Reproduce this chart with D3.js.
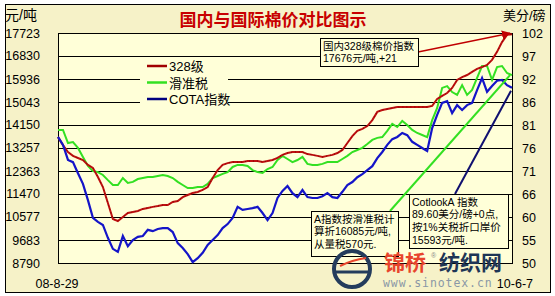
<!DOCTYPE html>
<html>
<head>
<meta charset="utf-8">
<script src="https://cdn.jsdelivr.net/npm/d3@7"></script>
<style>
  body { margin: 0; background: #fff; }
  text { font-family: "Liberation Sans", "Noto Sans CJK SC", sans-serif; }
</style>
</head>
<body>
<div id="chart"></div>
<script>
var width = 555;
var height = 296;
var outerBg = '#f6f2c8';
var plotBg = '#ffffd8';
var redColor = '#c01010';
var greenColor = '#33e022';
var blueColor = '#1414c8';

// chart data, one value per sample from 08-8-29 to 10-6-7
var dateLabels = ['08-8-29', '10-6-7'];
var leftTicks = [8790, 9683, 10577, 11470, 12363, 13257, 14150, 15043, 15936, 16830, 17723];
var rightTicks = [50, 55.2, 60.4, 65.6, 70.8, 76, 81.2, 86.4, 91.6, 96.8, 102];
var seriesNames = ['328级', '滑准税', 'COTA指数'];

// 国内328级 (元/吨)
var price328 = [13680, 13370, 13100, 12950, 12870, 12790, 12600, 12480, 12130, 11740,
  11120, 10500, 10420, 10580, 10730, 10770, 10810, 10890, 10930, 10970,
  11000, 11040, 11040, 11160, 11200, 11350, 11430, 11510, 11550, 11630,
  11740, 12090, 12400, 12600, 12670, 12710, 12710, 12710, 12750, 12750,
  12750, 12710, 12750, 12790, 12870, 12990, 13060, 13100, 13100, 13100,
  13020, 12990, 12950, 12910, 12950, 12990, 13060, 13180, 13450, 13720,
  13920, 14000, 14110, 14340, 14660, 14730, 14770, 14810, 14850, 14850,
  14850, 14850, 14850, 14850, 14850, 14890, 15160, 15280, 15390, 15590,
  15900, 16010, 16090, 16210, 16330, 16400, 16480, 16680, 16990, 17370,
  17650, 17676];

// 滑准税折算价 (元/吨)
var priceSliding = [13960, 13960, 13450, 13490, 13260, 12910, 12560, 12360, 12320, 12210,
  12010, 11820, 11820, 12090, 11900, 11940, 12050, 12090, 12130, 12130,
  12170, 12210, 12170, 12090, 11940, 11820, 11700, 11700, 11740, 11740,
  11860, 12090, 12170, 12250, 12320, 12520, 12600, 12600, 12560, 12400,
  12320, 12290, 12440, 12520, 12790, 12950, 12830, 12710, 12790, 12910,
  12640, 12600, 12600, 12640, 12710, 12710, 12710, 12830, 12950, 13100,
  13180, 13260, 13410, 13570, 13650, 13680, 13920, 14190, 14070, 14310,
  14150, 13960, 13840, 13760, 13680, 14340, 14810, 15590, 15660, 15430,
  15320, 15700, 15320, 15510, 15980, 16440, 16440, 15900, 16400, 16440,
  16170, 16085];

// COTA指数 (美分/磅)
var cotaIndex = [78.5, 76.7, 73.3, 72.8, 70.3, 67.9, 64.2, 60.2, 59.3, 58.6,
  55.7, 53.2, 52.5, 56.1, 53.8, 55.2, 55.9, 56.1, 57.5, 57.2,
  57.7, 57.9, 57.9, 57.0, 54.5, 53.4, 52.0, 50.2, 51.1, 52.3,
  54.1, 55.2, 56.3, 57.9, 58.8, 60.2, 62.7, 62.0, 62.2, 62.4,
  62.7, 61.3, 59.7, 61.3, 64.7, 66.3, 67.4, 65.8, 64.9, 66.5,
  64.9, 64.7, 64.7, 65.1, 65.8, 64.9, 64.7, 66.1, 67.6, 68.3,
  69.4, 70.1, 71.0, 71.9, 73.7, 75.1, 76.7, 78.0, 78.5, 79.4,
  78.9, 77.4, 76.7, 76.0, 75.3, 80.5, 83.5, 86.2, 86.6, 83.9,
  85.7, 84.6, 85.7, 86.2, 89.1, 91.8, 88.7, 90.0, 91.2, 91.4,
  90.2, 89.6];

var svg = d3.select('#chart').append('svg')
      .attr('width', width)
      .attr('height', height)

// outer frame
svg.append('rect')
      .attr('x', 5.5)
      .attr('y', 4.5)
      .attr('width', 545)
      .attr('height', 288)
      .style('fill', outerBg)
      .style('stroke', '#000')

var plot = { left: 58, right: 512, top: 33, bottom: 263 };

var xScale = d3.scaleLinear()
      .domain([0, price328.length - 1])
      .range([plot.left, plot.right])
var yLeft = d3.scaleLinear()
      .domain([8790, 17723])
      .range([plot.bottom, plot.top])
var yRight = d3.scaleLinear()
      .domain([50, 102])
      .range([plot.bottom, plot.top])

svg.append('rect')
      .attr('x', plot.left)
      .attr('y', plot.top)
      .attr('width', plot.right - plot.left)
      .attr('height', plot.bottom - plot.top)
      .style('fill', plotBg)

// grid lines
svg.append('g').selectAll('line')
      .data(leftTicks)
      .enter()
      .append('line')
            .attr('x1', plot.left)
            .attr('x2', plot.right)
            .attr('y1', d => Math.round(yLeft(d)) + 0.5)
            .attr('y2', d => Math.round(yLeft(d)) + 0.5)
            .style('stroke', '#000')
            .style('stroke-width', 1)

svg.append('rect')
      .attr('x', plot.left + 0.5)
      .attr('y', plot.top + 0.5)
      .attr('width', plot.right - plot.left)
      .attr('height', plot.bottom - plot.top)
      .style('fill', 'none')
      .style('stroke', '#000')

// axes
var leftAxis = d3.axisLeft(yLeft)
      .tickValues(leftTicks)
      .tickSize(0)
      .tickPadding(18)
      .tickFormat(d3.format('.0f'))
var rightAxis = d3.axisRight(yRight)
      .tickValues(rightTicks)
      .tickSize(0)
      .tickPadding(10)
      .tickFormat(d3.format('.0f'))

var gl = svg.append('g')
      .attr('transform', 'translate(' + plot.left + ',0)')
      .call(leftAxis)
var gr = svg.append('g')
      .attr('transform', 'translate(' + plot.right + ',0)')
      .call(rightAxis)
svg.selectAll('.domain').remove()
svg.selectAll('.tick text')
      .style('font-family', '"Liberation Sans", sans-serif')
      .style('font-size', '12.5px')
      .style('fill', '#000')

// axis titles and dates
svg.append('text')
      .attr('x', 5)
      .attr('y', 20)
      .style('font-size', '14px')
      .text('元/吨')
svg.append('text')
      .attr('x', 503)
      .attr('y', 20)
      .style('font-size', '13px')
      .text('美分/磅')
svg.append('text')
      .attr('x', xScale(0) - 1)
      .attr('y', 288)
      .style('text-anchor', 'middle')
      .style('font-size', '12.5px')
      .text(dateLabels[0])
svg.append('text')
      .attr('x', xScale(price328.length - 1) + 21)
      .attr('y', 288)
      .style('text-anchor', 'end')
      .style('font-size', '12.5px')
      .text(dateLabels[1])

// title
svg.append('text')
      .attr('x', 273)
      .attr('y', 26)
      .style('text-anchor', 'middle')
      .style('font-family', '"Noto Sans CJK SC", sans-serif')
      .style('font-weight', 'bold')
      .style('font-size', '17px')
      .style('fill', '#c80000')
      .text('国内与国际棉价对比图示')

// legend, covering the grid lines behind it
var legend = svg.append('g')
legend.append('rect')
      .attr('x', 140)
      .attr('y', 60)
      .attr('width', 88)
      .attr('height', 48)
      .style('fill', plotBg)
var legendColors = ['#a00000', greenColor, '#000080'];
seriesNames.forEach(function(name, i) {
      var ly = 66 + i * 16.5;
      legend.append('line')
            .attr('x1', 147)
            .attr('x2', 167)
            .attr('y1', ly)
            .attr('y2', ly)
            .style('stroke', legendColors[i])
            .style('stroke-width', 2.5)
      legend.append('text')
            .attr('x', 169)
            .attr('y', ly + 5)
            .style('font-size', '13px')
            .style('fill', '#000')
            .text(name)
})

// series lines
var lineLeft = d3.line()
      .x((d, i) => xScale(i))
      .y(d => yLeft(d))
var lineRight = d3.line()
      .x((d, i) => xScale(i))
      .y(d => yRight(d))

svg.append('path')
      .attr('d', lineLeft(priceSliding))
      .style('fill', 'none')
      .style('stroke', greenColor)
      .style('stroke-width', 2)
svg.append('path')
      .attr('d', lineLeft(price328))
      .style('fill', 'none')
      .style('stroke', redColor)
      .style('stroke-width', 2)
svg.append('path')
      .attr('d', lineLeft(price328))
      .style('fill', 'none')
      .style('stroke', '#6a0000')
      .style('stroke-width', 0.8)
      .style('stroke-dasharray', '1,3')
svg.append('path')
      .attr('d', lineRight(cotaIndex))
      .style('fill', 'none')
      .style('stroke', blueColor)
      .style('stroke-width', 2.2)

// annotation boxes with pointer lines to the last values
var last = price328.length - 1;
var notes = [
      { x: 320, y: 38, w: 98, h: 28, lines: ['国内328级棉价指数', '17676元/吨,+21'],
        from: [418, 52], to: [xScale(last) - 2, yLeft(price328[last]) - 1], color: '#c00000', arrow: true },
      { x: 311, y: 211, w: 87, h: 45, lines: ['A指数按滑准税计', '算折16085元/吨,', '从量税570元.'],
        from: [390, 211], to: [xScale(last) - 2, yLeft(priceSliding[last])], color: greenColor, arrow: false },
      { x: 409, y: 194, w: 99, h: 54, lines: ['CotlookA 指数', '89.60美分/磅+0点,', '按1%关税折口岸价', '15593元/吨.'],
        from: [455, 194], to: [xScale(last) - 1, yRight(cotaIndex[last]) + 3], color: '#101070', arrow: false }
];

svg.append('defs').append('marker')
      .attr('id', 'arrow')
      .attr('viewBox', '0 0 10 10')
      .attr('refX', 9)
      .attr('refY', 5)
      .attr('markerWidth', 6)
      .attr('markerHeight', 6)
      .attr('orient', 'auto')
      .append('path')
            .attr('d', 'M0,0L10,5L0,10z')
            .style('fill', '#c00000')

notes.forEach(function(n) {
      svg.append('line')
            .attr('x1', n.from[0])
            .attr('y1', n.from[1])
            .attr('x2', n.to[0])
            .attr('y2', n.to[1])
            .style('stroke', n.color)
            .style('stroke-width', n.arrow ? 1.5 : 2)
            .attr('marker-end', n.arrow ? 'url(#arrow)' : null)
      svg.append('rect')
            .attr('x', n.x + 0.5)
            .attr('y', n.y + 0.5)
            .attr('width', n.w)
            .attr('height', n.h)
            .style('fill', plotBg)
            .style('stroke', '#000')
      n.lines.forEach(function(s, j) {
            svg.append('text')
                  .attr('x', n.x + 3)
                  .attr('y', n.y + 11.5 + j * 12.8)
                  .style('font-size', '10.5px')
                  .style('fill', '#000')
                  .text(s)
      })
})

// watermark
var mark = svg.append('g')
mark.append('circle')
      .attr('cx', 352)
      .attr('cy', 269)
      .attr('r', 18)
      .style('fill', 'none')
      .style('stroke', '#243c5c')
      .style('stroke-width', 4)
mark.append('path')
      .attr('d', 'M336,272 L368,272')
      .style('stroke', '#243c5c')
      .style('stroke-width', 3)
mark.append('path')
      .attr('d', 'M340,266 Q352,260 366,258')
      .style('fill', 'none')
      .style('stroke', '#e8452c')
      .style('stroke-width', 2)
mark.append('text')
      .attr('x', 384)
      .attr('y', 270)
      .style('font-family', '"Noto Sans CJK SC", sans-serif')
      .style('font-weight', 'bold')
      .style('font-size', '21px')
      .style('fill', '#e8452c')
      .text('锦桥')
mark.append('text')
      .attr('x', 431)
      .attr('y', 258)
      .style('font-size', '7px')
      .style('fill', '#888')
      .text('®')
mark.append('text')
      .attr('x', 439)
      .attr('y', 270)
      .style('font-family', '"Noto Sans CJK SC", sans-serif')
      .style('font-weight', 'bold')
      .style('font-size', '21px')
      .style('fill', '#1e3656')
      .text('纺织网')
mark.append('text')
      .attr('x', 383)
      .attr('y', 287)
      .style('font-family', '"DejaVu Sans Mono", monospace')
      .style('font-size', '11.5px')
      .style('letter-spacing', '0.9px')
      .style('fill', '#8a98a6')
      .text('www.sinotex.cn')
</script>
</body>
</html>
